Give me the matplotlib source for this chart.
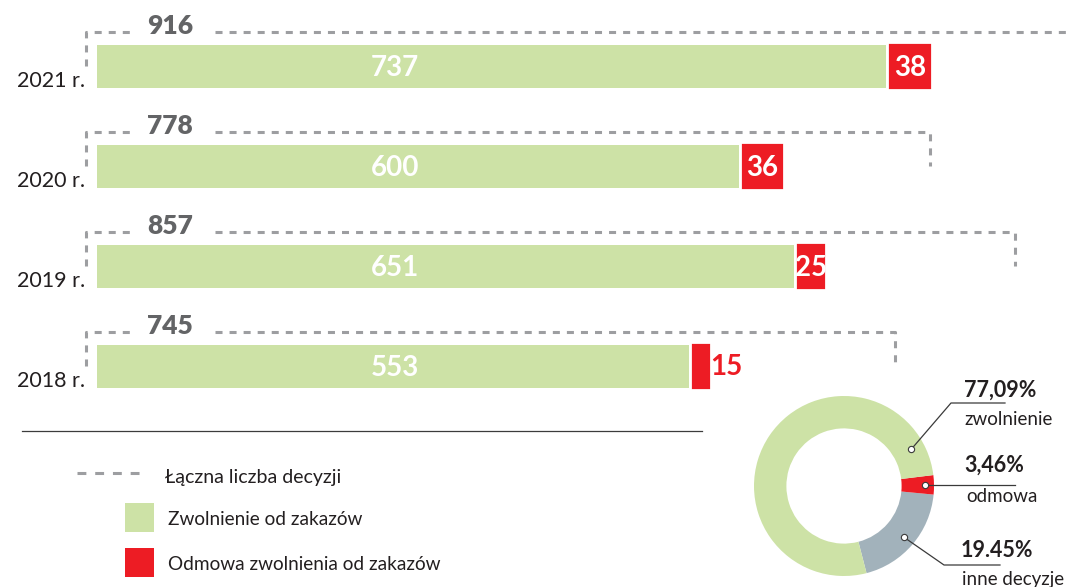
import numpy as np
import matplotlib
matplotlib.use("Agg")
import matplotlib.pyplot as plt
from matplotlib.patches import Rectangle
from matplotlib.lines import Line2D

plt.rcParams['font.family'] = ['Lato', 'DejaVu Sans']

# data
YEARS = ["2021 r.", "2020 r.", "2019 r.", "2018 r."]
GRANTED = [737, 600, 651, 553]
REFUSED = [38, 36, 25, 15]
TOTAL = [916, 778, 857, 745]

SHARES = [19.45, 3.46, 77.09]
SHARE_PCT = ["19.45%", "3,46%", "77,09%"]
SHARE_NAMES = ["inne decyzje", "odmowa", "zwolnienie"]

LEGEND_LABELS = ["Łączna liczba decyzji", "Zwolnienie od zakazów", "Odmowa zwolnienia od zakazów"]

GREEN = "#cde2a6"
RED = "#ed1c24"
RING_GREY = "#a2b2bb"
DASH = "#9d9ea1"
NUM_GREY = "#636466"
INK = "#231f20"

W, H = 1067, 587
fig = plt.figure(figsize=(W / 100, H / 100), dpi=100)


def fx(x):
    return x / W


def fy(y):
    return 1 - y / H


# bar part: 1 decision = PX pixels, zero at pixel X0, rows 100 px apart
PX = 1.0706
X0 = 97
ax = fig.add_axes([0, 0, 1, 1])
ax.set_xlim(-X0 / PX, (W - X0) / PX)
ax.set_ylim((H - 66) / 100, -0.66)
ax.axis('off')

rows = np.arange(len(YEARS))
ax.barh(rows, GRANTED, height=0.43, color=GREEN, linewidth=0)
ax.barh(rows, REFUSED, left=np.array(GRANTED) + 3.5, height=0.43,
        color=RED, edgecolor=RED, linewidth=1.6)

dash = dict(color=DASH, lw=2.2, linestyle=(0, (2.3, 2.3)), dash_capstyle='butt')
for i in rows:
    top = i - 0.345
    ax.plot([-10.3, -10.3, 33.6], [i, top, top], **dash)
    ax.plot([110, TOTAL[i], TOTAL[i]], [top, top, i], **dash)
    ax.text(68, top + 0.02, str(TOTAL[i]), ha='center', va='baseline',
            fontsize=19, fontweight='heavy', color=NUM_GREY)
    ax.text(-11.2, i + 0.21, YEARS[i], ha='right', va='baseline',
            fontsize=15.5, color=INK)
    ax.text(278, i + 0.105, str(GRANTED[i]), ha='center', va='baseline',
            fontsize=20, fontweight='bold', color='white')
    rx = GRANTED[i] + 3.5
    if REFUSED[i] > 20:
        ax.text(rx + REFUSED[i] / 2, i + 0.105, str(REFUSED[i]), ha='center',
                va='baseline', fontsize=20, fontweight='bold', color='white')
    else:
        ax.text(rx + REFUSED[i] + 1.5, i + 0.09, str(REFUSED[i]), ha='left',
                va='baseline', fontsize=20, fontweight='bold', color=RED)

# separator and legend
fig.add_artist(Line2D([fx(22), fx(702)], [fy(431), fy(431)], color='#3c3c3c', lw=0.9))
fig.add_artist(Line2D([fx(77), fx(142)], [fy(473), fy(473)], color=DASH, lw=2.2,
                      linestyle=(0, (2.9, 2.9)), dash_capstyle='butt'))
fig.text(fx(165), fy(483), LEGEND_LABELS[0], fontsize=14, color=INK, va='baseline')
for k, (col, y0) in enumerate([(GREEN, 503), (RED, 548)]):
    fig.add_artist(Rectangle((fx(125), fy(y0 + 29)), 29 / W, 29 / H,
                             transform=fig.transFigure, color=col, lw=0))
    fig.text(fx(168), fy(y0 + 22), LEGEND_LABELS[k + 1], fontsize=13.7,
             color=INK, va='baseline')

# donut
R = 90
cx, cy = 844, 486
dax = fig.add_axes([fx(cx - R), fy(cy + R), 2 * R / W, 2 * R / H])
wedges, _ = dax.pie(SHARES, colors=[RING_GREY, RED, GREEN], startangle=-75.5,
                    counterclock=True, radius=1,
                    wedgeprops=dict(width=0.36, linewidth=0))
dax.set_xlim(-1, 1)
dax.set_ylim(-1, 1)


def d(px, py):
    return (px - cx) / R, (cy - py) / R


# leader points: gray / red at wedge middle, green near its start
angles = [(wedges[0].theta1 + wedges[0].theta2) / 2,
          (wedges[1].theta1 + wedges[1].theta2) / 2,
          28.6]
radii = [0.88, 0.9, 0.85]
pts = [(r * np.cos(np.radians(a)), r * np.sin(np.radians(a))) for a, r in zip(angles, radii)]

paths = [[d(944, 565), d(1000, 565)],
         [d(1015, cy - pts[1][1] * R)],
         [d(951, 403), d(1005, 403)]]
for p, extra in zip(pts, paths):
    xs = [p[0]] + [e[0] for e in extra]
    ys = [p[1]] + [e[1] for e in extra]
    dax.plot(xs, ys, color='#3a3a3a', lw=0.9, clip_on=False, zorder=3)
    dax.plot(p[0], p[1], 'o', ms=4.5, mfc='white', mec='#3a3a3a', mew=0.8,
             clip_on=False, zorder=4)

pct_pos = [(997, 557), (994, 472), (1000, 397)]
name_pos = [(1013, 585), (1002, 502), (1009, 425)]
for k in range(3):
    fig.text(fx(pct_pos[k][0]), fy(pct_pos[k][1]), SHARE_PCT[k], ha='center',
             va='baseline', fontsize=15.5, fontweight='bold', color=INK)
    fig.text(fx(name_pos[k][0]), fy(name_pos[k][1]), SHARE_NAMES[k], ha='center',
             va='baseline', fontsize=13.5, color=INK)

fig.savefig("out.png", dpi=100)
